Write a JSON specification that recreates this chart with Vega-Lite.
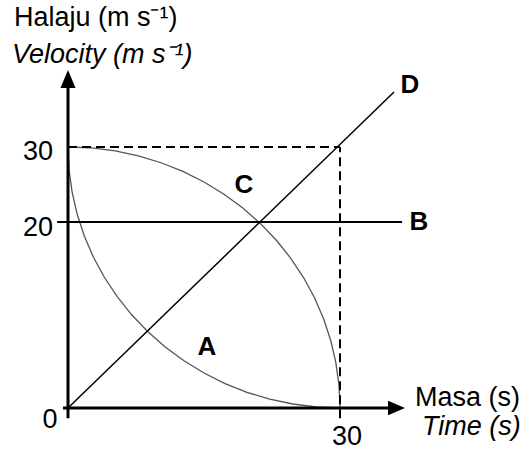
{
  "$schema": "https://vega.github.io/schema/vega-lite/v6.json",
  "width": 340,
  "height": 348,
  "autosize": {"type": "none"},
  "padding": {"left": 68, "top": 60, "right": 123, "bottom": 42},
  "background": "white",
  "view": {"stroke": null},
  "config": {"font": "Liberation Sans"},
  "datasets": {
    "curves": [
      {"curve": "C", "i": 0, "t": 0, "v": 30},
      {"curve": "C", "i": 1, "t": 2.61, "v": 29.87},
      {"curve": "C", "i": 2, "t": 5.21, "v": 29.47},
      {"curve": "C", "i": 3, "t": 7.76, "v": 28.81},
      {"curve": "C", "i": 4, "t": 10.26, "v": 27.9},
      {"curve": "C", "i": 5, "t": 12.68, "v": 26.74},
      {"curve": "C", "i": 6, "t": 15.0, "v": 25.34},
      {"curve": "C", "i": 7, "t": 17.21, "v": 23.71},
      {"curve": "C", "i": 8, "t": 19.28, "v": 21.86},
      {"curve": "C", "i": 9, "t": 21.21, "v": 19.85},
      {"curve": "C", "i": 10, "t": 22.98, "v": 18.04},
      {"curve": "C", "i": 11, "t": 24.57, "v": 16.1},
      {"curve": "C", "i": 12, "t": 25.98, "v": 14.03},
      {"curve": "C", "i": 13, "t": 27.19, "v": 11.86},
      {"curve": "C", "i": 14, "t": 28.19, "v": 9.6},
      {"curve": "C", "i": 15, "t": 28.98, "v": 7.26},
      {"curve": "C", "i": 16, "t": 29.54, "v": 4.87},
      {"curve": "C", "i": 17, "t": 29.89, "v": 2.45},
      {"curve": "C", "i": 18, "t": 30, "v": 0},
      {"curve": "A", "i": 0, "t": 0, "v": 30},
      {"curve": "A", "i": 1, "t": 0.11, "v": 26.97},
      {"curve": "A", "i": 2, "t": 0.46, "v": 23.96},
      {"curve": "A", "i": 3, "t": 1.02, "v": 20.99},
      {"curve": "A", "i": 4, "t": 1.81, "v": 18.47},
      {"curve": "A", "i": 5, "t": 2.81, "v": 16.2},
      {"curve": "A", "i": 6, "t": 4.02, "v": 14.03},
      {"curve": "A", "i": 7, "t": 5.43, "v": 11.97},
      {"curve": "A", "i": 8, "t": 7.02, "v": 10.02},
      {"curve": "A", "i": 9, "t": 8.79, "v": 8.22},
      {"curve": "A", "i": 10, "t": 10.72, "v": 6.57},
      {"curve": "A", "i": 11, "t": 12.79, "v": 5.08},
      {"curve": "A", "i": 12, "t": 15.0, "v": 3.76},
      {"curve": "A", "i": 13, "t": 17.32, "v": 2.63},
      {"curve": "A", "i": 14, "t": 19.74, "v": 1.69},
      {"curve": "A", "i": 15, "t": 22.24, "v": 0.96},
      {"curve": "A", "i": 16, "t": 24.79, "v": 0.43},
      {"curve": "A", "i": 17, "t": 27.39, "v": 0.11},
      {"curve": "A", "i": 18, "t": 30, "v": 0},
      {"curve": "D", "i": 0, "t": 0, "v": 0},
      {"curve": "D", "i": 1, "t": 35.96, "v": 37.33}
    ],
    "axes": [
      {"t": 0, "t2": 0, "v": -1.1, "v2": 38.0},
      {"t": -0.55, "t2": 36.2, "v": 0, "v2": 0}
    ],
    "solid": [
      {"t": -1.2, "t2": 36.84, "v": 20, "v2": 20}
    ],
    "dashed": [
      {"t": 0, "t2": 30, "v": 30, "v2": 30},
      {"t": 30, "t2": 30, "v": -1.1, "v2": 30}
    ],
    "upArrow": [{"t": 0, "v": 40.27}],
    "rightArrow": [{"t": 37.17, "v": 0}],
    "ticks": [
      {"t": -3.31, "v": 29.33, "label": "30"},
      {"t": -3.31, "v": 19.4, "label": "20"},
      {"t": -1.99, "v": -1.29, "label": "0"},
      {"t": 30.77, "v": -3.12, "label": "30"}
    ],
    "letters": [
      {"t": 19.41, "v": 24.93, "label": "C"},
      {"t": 15.33, "v": 6.56, "label": "A"},
      {"t": 37.72, "v": 38.27, "label": "D"},
      {"t": 38.71, "v": 20, "label": "B"}
    ],
    "titles": [
      {"t": -5.96, "v": 47.2, "label": "Halaju (m s⁻¹)"},
      {"t": 38.27, "v": 1.08, "label": "Masa (s)"}
    ],
    "titlesItalic": [
      {"t": -6.18, "v": 42.27, "label": "Velocity (m s⁻¹)"},
      {"t": 39.04, "v": -2.04, "label": "Time (s)"}
    ]
  },
  "encoding": {
    "x": {"field": "t", "type": "quantitative", "axis": null, "scale": {"domain": [0, 37.5], "nice": false, "zero": false}},
    "y": {"field": "v", "type": "quantitative", "axis": null, "scale": {"domain": [0, 20, 30, 41], "range": [348, 162, 87, 4.5], "nice": false, "zero": false}}
  },
  "layer": [
    {
      "data": {"name": "curves"},
      "transform": [{"filter": "datum.curve !== 'D'"}],
      "mark": {"type": "line", "color": "#555555", "strokeWidth": 1.3, "interpolate": "linear"},
      "encoding": {"detail": {"field": "curve"}, "order": {"field": "i", "type": "quantitative"}}
    },
    {
      "data": {"name": "curves"},
      "transform": [{"filter": "datum.curve === 'D'"}],
      "mark": {"type": "line", "color": "black", "strokeWidth": 1.5},
      "encoding": {"order": {"field": "i", "type": "quantitative"}}
    },
    {
      "data": {"name": "dashed"},
      "mark": {"type": "rule", "color": "black", "strokeWidth": 2, "strokeDash": [9, 5]},
      "encoding": {"x2": {"field": "t2"}, "y2": {"field": "v2"}}
    },
    {
      "data": {"name": "solid"},
      "mark": {"type": "rule", "color": "black", "strokeWidth": 2},
      "encoding": {"x2": {"field": "t2"}, "y2": {"field": "v2"}}
    },
    {
      "data": {"name": "axes"},
      "mark": {"type": "rule", "color": "black", "strokeWidth": 3},
      "encoding": {"x2": {"field": "t2"}, "y2": {"field": "v2"}}
    },
    {
      "data": {"name": "upArrow"},
      "mark": {"type": "point", "shape": "M0,0L-0.42,1L0.42,1Z", "filled": true, "color": "black", "opacity": 1, "size": 1296, "strokeWidth": 0}
    },
    {
      "data": {"name": "rightArrow"},
      "mark": {"type": "point", "shape": "M0,0L-1,-0.42L-1,0.42Z", "filled": true, "color": "black", "opacity": 1, "size": 1156, "strokeWidth": 0}
    },
    {
      "data": {"name": "ticks"},
      "mark": {"type": "text", "fontSize": 27, "align": "center", "baseline": "middle", "color": "black"},
      "encoding": {"text": {"field": "label"}}
    },
    {
      "data": {"name": "letters"},
      "mark": {"type": "text", "fontSize": 26, "fontWeight": "bold", "align": "center", "baseline": "middle", "color": "black"},
      "encoding": {"text": {"field": "label"}}
    },
    {
      "data": {"name": "titles"},
      "mark": {"type": "text", "fontSize": 27, "align": "left", "baseline": "middle", "color": "black"},
      "encoding": {"text": {"field": "label"}}
    },
    {
      "data": {"name": "titlesItalic"},
      "mark": {"type": "text", "fontSize": 27, "fontStyle": "italic", "align": "left", "baseline": "middle", "color": "black"},
      "encoding": {"text": {"field": "label"}}
    }
  ]
}
